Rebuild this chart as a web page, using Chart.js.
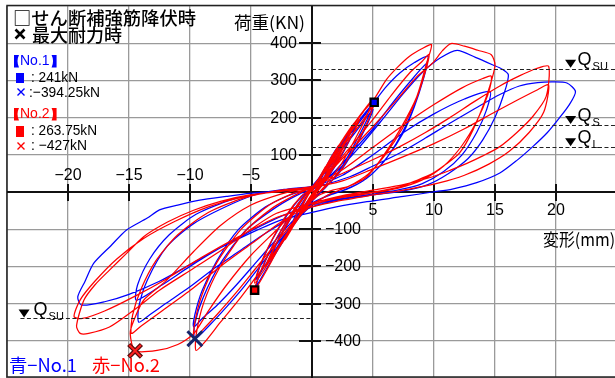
<!DOCTYPE html>
<html>
<head>
<meta charset="utf-8">
<script src="https://cdn.jsdelivr.net/npm/chart.js@4.4.1/dist/chart.umd.min.js"></script>
<style>
  html, body { margin: 0; padding: 0; background: #fff; overflow: hidden; }
  canvas { display: block; }
</style>
</head>
<body>
<canvas id="chart" width="615" height="378"></canvas>
<script>
// Grid positions and axis tick labels
const gridX = [-25, -20, -15, -10, -5, 0, 5, 10, 15, 20];
const gridY = [-500, -400, -300, -200, -100, 0, 100, 200, 300, 400, 500];
const xLabelValues = [-20, -15, -10, -5, 5, 10, 15, 20];
const yLabelValues = [400, 300, 200, 100, -100, -200, -300, -400];

// Design strength levels (kN)
const qNames = ['SU', 'S', 'L'];
const qPositive = [331, 180, 120];
const qNegativeSU = -338;

// Shear reinforcement yield points [mm, kN]
const no1Yield = [5.1, 241];
const no2Yield = [-4.7, -263.75];
// Maximum strength points [mm, kN]
const no1Max = [-9.6, -394.25];
const no2Max = [-14.5, -427];

// Load–deformation path of specimen No.1 [deformation mm, load kN]
const no1Path = [
  // ±1 mm
  [0,0],[0.6,35],[1.2,70],[0.9,45],[0.4,10],[0,-10],[-0.6,-40],[-1.2,-70],[-0.9,-45],[-0.4,-10],[0,8],
  // ±2 mm
  [0.8,45],[1.6,95],[2.2,125],[1.8,95],[1.0,40],[0.2,0],[-0.6,-35],[-1.5,-85],[-2.2,-122],[-1.8,-95],[-1.0,-40],[-0.2,0],
  // ±3.5 mm
  [0.6,30],[1.6,85],[2.6,140],[3.5,185],[3.0,150],[2.0,85],[1.0,30],[0,-15],[-1.2,-65],[-2.4,-125],[-3.4,-180],[-2.9,-140],[-1.9,-80],[-0.9,-25],[0,15],
  [1.0,55],[2.2,115],[3.3,172],[2.8,135],[1.8,75],[0.8,20],[-0.3,-25],[-1.4,-80],[-2.4,-130],[-3.3,-168],[-2.7,-125],[-1.7,-65],[-0.7,-15],[0.2,20],
  [1.2,62],[2.5,125],[3.6,178],[3.1,140],[2.1,80],[1.0,25],[-0.2,-22],[-1.5,-85],[-2.7,-145],[-3.7,-195],[-3.1,-150],[-2.0,-85],[-0.9,-22],[0.1,15],
  // ±5 mm
  [1.2,70],[2.5,135],[3.8,190],[5.1,241],[4.6,200],[3.6,135],[2.4,65],[1.2,15],[0,-25],[-1.3,-80],[-2.6,-145],[-3.7,-205],[-4.6,-255],[-4.2,-215],[-3.3,-150],[-2.2,-85],[-1.0,-25],[0,15],
  [1.3,60],[2.6,120],[3.9,175],[5.0,222],[4.5,180],[3.4,110],[2.2,50],[1.0,10],[-0.2,-25],[-1.5,-80],[-2.9,-150],[-3.9,-200],[-4.6,-236],[-4.2,-195],[-3.2,-125],[-2.0,-60],[-0.8,-10],[0.3,20],
  // ±10 mm
  [1.5,80],[3.0,150],[4.3,205],[5.1,241],[6.0,280],[7.2,320],[8.4,348],[9.5,365],
  [9.3,330],[8.8,270],[8.0,200],[6.9,130],[5.6,70],[4.2,30],[2.6,5],[1.2,-10],[0,-35],
  [-1.5,-85],[-3.0,-145],[-4.3,-201],[-5.7,-260],[-7.0,-309],[-8.3,-355],[-9.6,-394.25],
  [-9.6,-354],[-8.9,-282],[-7.5,-192],[-5.4,-102],[-2.9,-40],[-1.0,-5],[0.5,15],
  [2.0,60],[3.5,115],[5.0,170],[6.5,235],[8.0,295],[9.4,345],
  [9.1,300],[8.4,230],[7.5,160],[6.2,95],[4.8,45],[3.2,12],[1.5,-8],[0,-30],
  [-1.5,-75],[-3.0,-130],[-4.6,-190],[-6.2,-250],[-7.8,-305],[-9.0,-340],[-9.7,-363],
  [-9.6,-330],[-9.0,-265],[-7.8,-185],[-6.0,-100],[-3.8,-40],[-1.8,-8],[0,12],
  // ±15 mm
  [2.0,55],[4.0,125],[5.9,200],[7.5,265],[9.0,320],[10.5,360],[11.9,381],[13.4,362],[14.8,342],[15.6,330],[16.1,315],
  [15.8,270],[15.0,200],[14.0,140],[12.8,90],[11.2,50],[9.5,20],[7.5,3],[5.0,-8],[2.5,-20],[0,-40],
  [-2.0,-75],[-4.0,-115],[-6.0,-160],[-8.0,-205],[-10.0,-255],[-12.0,-300],[-13.3,-330],[-14.2,-350],
  [-14.2,-309],[-13.5,-237],[-11.9,-147],[-9.7,-85],[-6.5,-31],[-4.3,-4],[-2.0,8],[0,15],
  [2.5,45],[5.0,100],[7.5,160],[10.0,210],[12.5,250],[14.6,270],
  [14.3,220],[13.5,160],[12.3,100],[10.8,55],[9.0,22],[7.0,5],[4.5,-8],[2.0,-20],[0,-35],
  [-2.5,-65],[-5.0,-105],[-7.5,-150],[-10.0,-200],[-12.3,-250],[-14.4,-291],
  [-14.3,-250],[-13.3,-180],[-11.7,-115],[-9.5,-60],[-6.5,-20],[-3.5,0],[0,12],
  // ±20 mm
  [3.1,41],[5.0,70],[7.2,105],[9.3,145],[11.3,185],[13.4,225],[15.4,262],[17.0,285],[18.5,294],[19.8,296],[20.9,293],[21.6,270],
  [21.1,235],[20.3,200],[19.3,160],[18.1,122],[16.8,85],[15.4,51],[13.5,25],[11.5,8],[9.9,0],[7.5,-12],[4.5,-26],[2.0,-40],[0,-55],
  [-2.5,-75],[-5.0,-110],[-7.5,-150],[-10.0,-195],[-12.5,-240],[-15.0,-275],[-17.0,-295],[-18.9,-304],[-19.2,-282],
  [-18.6,-240],[-17.9,-192],[-16.5,-145],[-15.2,-102],[-13.5,-70],[-12.5,-48],[-11.0,-35],[-9.2,-22],[-7.0,-12],[-5.1,-4],[-3.0,2],[0,10]
];

// Load–deformation path of specimen No.2 [deformation mm, load kN]
const no2Path = [
  // ±1 mm
  [0,0],[0.6,38],[1.1,68],[0.8,42],[0.3,8],[-0.2,-15],[-0.7,-45],[-1.1,-68],[-0.8,-40],[-0.3,-8],[0.1,10],
  // ±2 mm
  [0.9,55],[1.7,100],[2.3,130],[1.9,100],[1.1,45],[0.3,5],[-0.6,-40],[-1.5,-90],[-2.2,-128],[-1.8,-98],[-1.0,-45],[-0.2,0],
  // ±3.5 mm
  [0.7,40],[1.7,95],[2.7,150],[3.6,190],[3.1,155],[2.1,90],[1.1,35],[0.1,-10],[-1.1,-65],[-2.3,-125],[-3.5,-185],[-3.0,-145],[-2.0,-85],[-1.0,-30],[0,12],
  [1.1,60],[2.2,120],[3.3,178],[2.8,140],[1.8,80],[0.8,25],[-0.3,-22],[-1.4,-80],[-2.5,-135],[-3.4,-175],[-2.8,-130],[-1.8,-70],[-0.8,-18],[0.2,18],
  [1.3,68],[2.6,132],[3.9,195],[3.4,160],[2.3,95],[1.2,35],[0,-18],[-1.3,-80],[-2.6,-145],[-3.8,-200],[-3.2,-155],[-2.1,-90],[-1.0,-28],[0.1,14],
  // ±5 mm
  [1.2,70],[2.5,140],[3.8,200],[5.0,250],[4.5,205],[3.5,140],[2.3,70],[1.1,18],[-0.1,-25],[-1.4,-85],[-2.7,-150],[-3.8,-215],[-4.7,-263.75],[-4.3,-220],[-3.4,-155],[-2.3,-90],[-1.1,-30],[0,12],
  [1.3,62],[2.6,125],[3.9,180],[5.0,230],[4.5,185],[3.4,115],[2.2,52],[1.0,10],[-0.2,-25],[-1.5,-82],[-2.9,-155],[-3.9,-208],[-4.7,-245],[-4.3,-200],[-3.3,-130],[-2.1,-62],[-0.9,-12],[0.3,20],
  // ±10 mm
  [1.5,85],[3.0,160],[4.2,215],[5.1,250],[6.1,302],[7.0,335],[8.0,365],[9.0,385],[9.8,396],
  [9.4,347],[8.6,257],[7.2,167],[5.8,95],[4.5,41],[3.0,15],[1.7,5],[0.5,-10],[-0.5,-40],
  [-1.5,-90],[-3.0,-160],[-4.5,-225],[-6.0,-290],[-7.5,-350],[-8.7,-400],[-9.5,-426],
  [-9.5,-385],[-8.9,-300],[-7.6,-205],[-5.6,-110],[-3.2,-42],[-1.2,-5],[0.3,18],
  [1.8,70],[3.5,135],[5.0,195],[6.5,260],[8.0,320],[9.0,350],[9.6,370],
  [9.3,325],[8.5,245],[7.4,170],[6.0,100],[4.6,48],[3.0,15],[1.5,-5],[0,-35],
  [-1.5,-80],[-3.0,-140],[-4.6,-205],[-6.2,-270],[-7.8,-330],[-9.0,-372],[-9.7,-395],
  [-9.6,-350],[-9.0,-275],[-7.8,-190],[-5.8,-100],[-3.5,-35],[-1.5,-3],[0.2,15],
  // ±15 mm
  [2.5,90],[5.0,176],[7.2,257],[8.6,310],[9.9,347],[10.7,380],[11.4,399],[12.5,392],[13.6,381],[14.7,369],[15.0,340],
  [14.3,257],[13.2,167],[12.1,105],[11.0,75],[9.9,50],[8.5,30],[7.2,14],[5.0,0],[2.5,-12],[0,-30],
  [-1.5,-55],[-2.9,-102],[-5.0,-170],[-7.0,-250],[-8.5,-320],[-9.7,-381],[-11.0,-410],[-12.7,-426],[-14.5,-427],
  [-14.9,-380],[-14.6,-345],[-13.8,-291],[-11.9,-237],[-9.7,-160],[-7.5,-90],[-5.0,-35],[-2.5,-5],[0,15],
  [2.5,60],[5.0,120],[7.5,180],[10.0,235],[12.3,280],[14.0,305],[14.7,311],
  [14.4,260],[13.5,190],[12.3,125],[10.8,70],[9.0,32],[7.0,10],[4.5,-5],[2.0,-18],[0,-35],
  [-2.5,-80],[-5.0,-140],[-7.5,-200],[-10.0,-265],[-12.3,-320],[-14.0,-360],[-14.8,-380],
  [-14.7,-330],[-14.0,-260],[-12.8,-185],[-11.0,-115],[-8.5,-55],[-5.5,-15],[-2.5,5],[0,15],
  // ±20 mm
  [3.1,59],[5.2,90],[7.2,122],[9.3,160],[11.3,200],[13.4,245],[15.4,285],[17.0,312],[18.4,332],[19.4,338],
  [19.2,257],[18.1,203],[16.8,160],[15.4,122],[14.0,97],[12.7,77],[11.3,58],[9.9,41],[7.5,20],[5.0,5],[2.5,-10],[0,-30],
  [-2.9,-57],[-5.0,-100],[-7.0,-147],[-9.7,-205],[-12.5,-264],[-14.5,-315],[-16.6,-363],[-18.3,-380],[-19.0,-380],[-19.3,-360],
  [-18.7,-291],[-17.8,-250],[-16.6,-210],[-15.2,-165],[-13.8,-120],[-11.8,-80],[-9.7,-49],[-7.5,-25],[-5.1,-8],[-2.5,2],[0,12],
  [2.5,30],[5.0,62],[7.5,95],[10.0,130],[12.5,170],[15.0,215],[17.0,250],[18.5,275],[19.4,288],
  [19.0,215],[17.8,160],[16.2,110],[14.5,75],[12.5,45],[10.5,25],[8.0,8],[5.0,-8],[2.0,-25],[0,-40],
  [-3.0,-70],[-6.0,-120],[-9.0,-175],[-12.0,-235],[-14.5,-280],[-17.0,-320],[-18.8,-340],[-19.5,-335],
  [-19.0,-290],[-17.8,-240],[-16.0,-180],[-13.8,-125],[-11.3,-80],[-8.5,-40],[-5.5,-12],[-2.5,3],[0,10]
];

const BLUE = '#0000ff';
const RED = '#ff0000';
const NUM_FONT = '"Liberation Sans", Arial, sans-serif';
const JP_FONT = '"Noto Sans CJK JP", "Liberation Sans", sans-serif';

const toPoints = path => path.map(([x, y]) => ({ x, y }));
const fmt = v => String(v).replace('-', '\u2212');

// Draw text squeezed/stretched to a given width
function fitText(ctx, text, x, y, width, font, color) {
  ctx.save();
  ctx.font = font;
  ctx.fillStyle = color;
  ctx.textBaseline = 'middle';
  ctx.textAlign = 'left';
  const w = ctx.measureText(text).width;
  const sx = width ? width / w : 1;
  ctx.translate(x, y);
  ctx.scale(sx, 1);
  ctx.fillText(text, 0, 0);
  ctx.restore();
}

function smallCross(ctx, cx, cy, half, color, lw) {
  ctx.save();
  ctx.strokeStyle = color;
  ctx.lineWidth = lw;
  ctx.beginPath();
  ctx.moveTo(cx - half, cy - half); ctx.lineTo(cx + half, cy + half);
  ctx.moveTo(cx + half, cy - half); ctx.lineTo(cx - half, cy + half);
  ctx.stroke();
  ctx.restore();
}

// 【No.n】 heading with narrow brackets
function heading(ctx, text, y, color) {
  ctx.save();
  ctx.fillStyle = color;
  ctx.textBaseline = 'middle';
  ctx.textAlign = 'left';
  ctx.font = '500 14px ' + NUM_FONT;
  ctx.fillText(text, 20, y + 0.5);
  const w = ctx.measureText(text).width;
  const br = (x0, dir) => {
    ctx.beginPath();
    ctx.moveTo(x0 + 5 * dir, y - 6);
    ctx.lineTo(x0, y - 6);
    ctx.lineTo(x0, y + 6.5);
    ctx.lineTo(x0 + 5 * dir, y + 6.5);
    ctx.quadraticCurveTo(x0 + 2 * dir, y, x0 + 5 * dir, y - 6);
    ctx.fill();
  };
  br(14, 1);
  br(20 + w + 7, -1);
  ctx.restore();
}

const decor = {
  id: 'decor',
  beforeDatasetsDraw(chart) {
    const { ctx, chartArea: a, scales: { x, y } } = chart;
    const x0 = Math.round(x.getPixelForValue(0));
    const y0 = Math.round(y.getPixelForValue(0));
    ctx.save();
    // frame
    ctx.strokeStyle = '#222';
    ctx.lineWidth = 1.5;
    ctx.beginPath();
    ctx.moveTo(a.right + 2, a.top - 0.5);
    ctx.lineTo(a.left, a.top - 0.5);
    ctx.lineTo(a.left, a.bottom - 1);
    ctx.lineTo(a.right + 2, a.bottom - 1);
    ctx.stroke();
    // axes
    ctx.strokeStyle = '#111';
    ctx.lineWidth = 2;
    ctx.beginPath();
    ctx.moveTo(a.left, y0); ctx.lineTo(a.right, y0);
    ctx.moveTo(x0, a.top); ctx.lineTo(x0, a.bottom);
    // tick marks crossing the axes
    xLabelValues.forEach(v => {
      const px = Math.round(x.getPixelForValue(v));
      ctx.moveTo(px, y0 - 8); ctx.lineTo(px, y0 + 9);
    });
    yLabelValues.forEach(v => {
      const py = Math.round(y.getPixelForValue(v));
      ctx.moveTo(x0 - 13, py); ctx.lineTo(x0 + 9, py);
    });
    ctx.stroke();
    ctx.restore();
  },
  afterDatasetsDraw(chart) {
    const { ctx, chartArea: a, scales: { x, y } } = chart;
    const x0 = x.getPixelForValue(0);
    const y0 = y.getPixelForValue(0);
    ctx.save();

    // design strength levels
    ctx.strokeStyle = '#222';
    ctx.lineWidth = 1.2;
    ctx.setLineDash([4, 2.5]);
    ctx.beginPath();
    qPositive.forEach(q => {
      const py = Math.round(y.getPixelForValue(q)) + 0.5;
      ctx.moveTo(x0, py); ctx.lineTo(a.right, py);
    });
    const pyn = Math.round(y.getPixelForValue(qNegativeSU)) + 0.5;
    ctx.moveTo(x.getPixelForValue(-23.9), pyn); ctx.lineTo(x0, pyn);
    ctx.stroke();
    ctx.setLineDash([]);

    const tri = (cx, ly) => {
      ctx.fillStyle = '#000';
      ctx.beginPath();
      ctx.moveTo(cx - 5.5, ly - 9);
      ctx.lineTo(cx + 5.5, ly - 9);
      ctx.lineTo(cx, ly - 1);
      ctx.closePath();
      ctx.fill();
    };
    const qLabel = (qx, ly, sub) => {
      ctx.fillStyle = '#000';
      ctx.textBaseline = 'alphabetic';
      ctx.textAlign = 'left';
      ctx.font = '18px ' + NUM_FONT;
      ctx.fillText('Q', qx, ly - 4);
      const qw = ctx.measureText('Q').width;
      ctx.font = '11px ' + NUM_FONT;
      ctx.fillText(sub, qx + qw + 1, ly + 1);
    };
    const qxPos = x.getPixelForValue(21.2);
    qPositive.forEach((q, i) => {
      const ly = y.getPixelForValue(q);
      tri(qxPos, ly);
      qLabel(qxPos + 7, ly, qNames[i]);
    });
    const qxNeg = x.getPixelForValue(-23.6);
    tri(qxNeg, pyn);
    qLabel(qxNeg + 9.5, pyn, qNames[0]);

    // tick labels
    ctx.fillStyle = '#000';
    ctx.textBaseline = 'middle';
    ctx.font = '16px ' + NUM_FONT;
    xLabelValues.forEach(v => {
      const px = x.getPixelForValue(v);
      ctx.textAlign = 'center';
      if (v < 0) ctx.fillText(fmt(v), px, y0 - 16);
      else ctx.fillText(fmt(v), px, y0 + 19);
    });
    yLabelValues.forEach(v => {
      const py = y.getPixelForValue(v) + 0.5;
      if (v > 0) { ctx.textAlign = 'right'; ctx.fillText(fmt(v), x0 - 15, py); }
      else { ctx.textAlign = 'left'; ctx.fillText(fmt(v), x0 + 13, py); }
    });

    // axis titles
    fitText(ctx, '荷重(KN)', 234, 23, 71, '17px ' + JP_FONT, '#000');
    fitText(ctx, '変形(mm)', 543, 240, 72, '17px ' + JP_FONT, '#000');

    // key (top left)
    fitText(ctx, '□せん断補強筋降伏時', 13, 18, 183, '500 18px ' + JP_FONT, '#000');
    smallCross(ctx, 20, 34, 4.5, '#000', 2.6);
    fitText(ctx, '最大耐力時', 32, 35, 90, '500 18px ' + JP_FONT, '#000');

    heading(ctx, 'No.1', 61, BLUE);
    ctx.fillStyle = BLUE;
    ctx.fillRect(16, 73, 8, 10);
    fitText(ctx, ': ' + no1Yield[1] + 'kN', 31, 78, 47, '15px ' + NUM_FONT, '#000');
    smallCross(ctx, 21, 92, 3.5, BLUE, 1.4);
    fitText(ctx, ':' + fmt(no1Max[1]) + 'kN', 29, 93, 71, '15px ' + NUM_FONT, '#000');

    heading(ctx, 'No.2', 114, RED);
    ctx.fillStyle = RED;
    ctx.fillRect(16, 126, 8, 11);
    fitText(ctx, ': ' + fmt(Math.abs(no2Yield[1])) + 'kN', 31, 131, 66, '15px ' + NUM_FONT, '#000');
    smallCross(ctx, 21, 146, 3.5, RED, 1.4);
    fitText(ctx, ': ' + fmt(no2Max[1]) + 'kN', 31, 146, 56, '15px ' + NUM_FONT, '#000');

    // series names (bottom left)
    fitText(ctx, '青\u2212No.1', 9, 365, 68, '18px ' + JP_FONT, BLUE);
    fitText(ctx, '赤\u2212No.2', 92, 365, 68, '18px ' + JP_FONT, RED);

    ctx.restore();
  }
};

const lineStyle = { showLine: true, pointRadius: 0, borderWidth: 1.25, tension: 0.25, fill: false };

new Chart(document.getElementById('chart'), {
  type: 'scatter',
  data: {
    datasets: [
      { label: 'No.2 最大耐力', data: toPoints([no2Max]), pointStyle: 'crossRot', pointRadius: 9, borderColor: '#5a0a0a', borderWidth: 4.5, order: 1 },
      { label: 'No.2 最大耐力', data: toPoints([no2Max]), pointStyle: 'crossRot', pointRadius: 8.2, borderColor: '#ff2020', borderWidth: 2, order: 0 },
      { label: 'No.1 最大耐力', data: toPoints([no1Max]), pointStyle: 'crossRot', pointRadius: 10.5, borderColor: '#16246a', borderWidth: 3, order: 0 },
      { label: 'No.1 降伏', data: toPoints([no1Yield]), pointStyle: 'rect', pointRadius: 5.2, backgroundColor: BLUE, borderColor: '#000', borderWidth: 2.2, order: 0 },
      { label: 'No.2 降伏', data: toPoints([no2Yield]), pointStyle: 'rect', pointRadius: 5.2, backgroundColor: RED, borderColor: '#000', borderWidth: 2.2, order: 0 },
      { label: 'No.2', data: toPoints(no2Path), borderColor: RED, order: 2, ...lineStyle },
      { label: 'No.1', data: toPoints(no1Path), borderColor: BLUE, order: 3, ...lineStyle }
    ]
  },
  options: {
    responsive: false,
    animation: false,
    devicePixelRatio: 1,
    events: [],
    layout: { autoPadding: false, padding: { left: 7, top: 6, right: 0, bottom: 0 } },
    plugins: { legend: { display: false }, tooltip: { enabled: false } },
    scales: {
      x: {
        type: 'linear', min: -25, max: 24.84,
        afterBuildTicks: axis => { axis.ticks = gridX.map(v => ({ value: v })); },
        afterFit: axis => { axis.height = 0; },
        ticks: { display: false },
        grid: { color: '#9a9a9a', lineWidth: 1.3, drawTicks: false },
        border: { display: false }
      },
      y: {
        type: 'linear', min: -500, max: 500,
        afterBuildTicks: axis => { axis.ticks = gridY.map(v => ({ value: v })); },
        afterFit: axis => { axis.width = 0; },
        ticks: { display: false },
        grid: { color: '#9a9a9a', lineWidth: 1.3, drawTicks: false },
        border: { display: false }
      }
    }
  },
  plugins: [decor]
});
</script>
</body>
</html>
